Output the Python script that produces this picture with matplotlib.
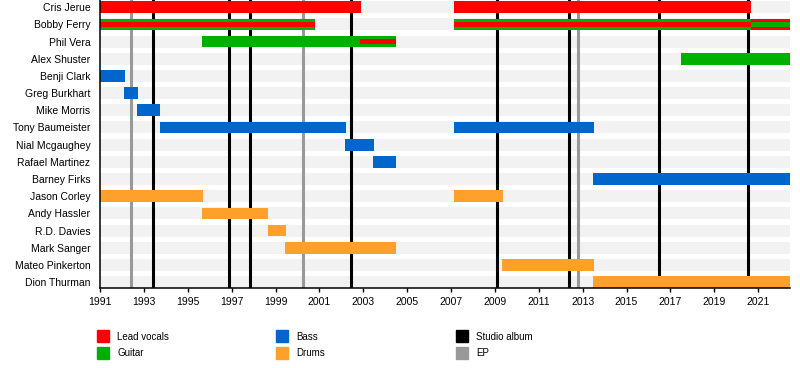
import matplotlib
matplotlib.use("Agg")
import matplotlib.pyplot as plt
from matplotlib.patches import Rectangle

plt.rcParams['font.family'] = ['Liberation Sans', 'DejaVu Sans']

# band members, top to bottom
members = ['Cris Jerue', 'Bobby Ferry', 'Phil Vera', 'Alex Shuster', 'Benji Clark',
           'Greg Burkhart', 'Mike Morris', 'Tony Baumeister', 'Nial Mcgaughey',
           'Rafael Martinez', 'Barney Firks', 'Jason Corley', 'Andy Hassler',
           'R.D. Davies', 'Mark Sanger', 'Mateo Pinkerton', 'Dion Thurman']

END = 2022.47

# (member, start, end) for the main bar of each role
vocals = [('Cris Jerue', 1991.0, 2002.89), ('Cris Jerue', 2007.13, 2020.66),
          ('Bobby Ferry', 2020.66, END)]
guitar = [('Bobby Ferry', 1991.0, 2000.8), ('Bobby Ferry', 2007.13, 2020.66),
          ('Phil Vera', 1995.65, 2004.5), ('Alex Shuster', 2017.5, END)]
bass = [('Benji Clark', 1991.0, 1992.12), ('Greg Burkhart', 1992.1, 1992.72),
        ('Mike Morris', 1992.7, 1993.74), ('Tony Baumeister', 1993.73, 2002.2),
        ('Tony Baumeister', 2007.13, 2013.51), ('Nial Mcgaughey', 2002.16, 2003.48),
        ('Rafael Martinez', 2003.45, 2004.5), ('Barney Firks', 2013.47, END)]
drums = [('Jason Corley', 1991.0, 1995.69), ('Jason Corley', 2007.13, 2009.35),
         ('Andy Hassler', 1995.65, 1998.68), ('R.D. Davies', 1998.65, 1999.47),
         ('Mark Sanger', 1999.42, 2004.5), ('Mateo Pinkerton', 2009.33, 2013.5),
         ('Dion Thurman', 2013.47, END)]

# secondary roles, drawn as a thin stripe inside the main bar
vocals_stripe = [('Bobby Ferry', 1991.0, 2000.8), ('Bobby Ferry', 2007.13, 2020.66),
                 ('Phil Vera', 2002.85, 2004.5)]
guitar_stripe = [('Bobby Ferry', 2020.66, END)]

studio_albums = [1993.41, 1996.86, 1997.86, 2002.45, 2009.1, 2012.38, 2016.5, 2020.54]
eps = [1992.43, 2000.26, 2012.79]

tick_years = list(range(1991, 2022, 2))

colors = {'Lead vocals': '#ff0000', 'Guitar': '#00b000', 'Bass': '#0066cc',
          'Drums': '#ffa02a', 'Studio album': '#000000', 'EP': '#999999'}

fig = plt.figure(figsize=(8, 3.68), dpi=100)
ax = fig.add_axes([0.125, 0.218, 0.863, 0.782])

rows = {name: i for i, name in enumerate(members)}

# background stripes
ax.barh(range(len(members)), END - 1991, left=1991, height=0.7,
        color='#f2f2f2', zorder=0)

for x in studio_albums:
    ax.axvline(x, color=colors['Studio album'], lw=2.2, zorder=1)
for x in eps:
    ax.axvline(x, color=colors['EP'], lw=2.2, zorder=1)

def draw(periods, color, h, z):
    for name, s, e in periods:
        ax.barh(rows[name], e - s, left=s, height=h, color=color, zorder=z,
                linewidth=0)

draw(vocals, colors['Lead vocals'], 0.68, 2)
draw(guitar, colors['Guitar'], 0.68, 2)
draw(bass, colors['Bass'], 0.68, 2)
draw(drums, colors['Drums'], 0.68, 2)
draw(vocals_stripe, colors['Lead vocals'], 0.27, 3)
draw(guitar_stripe, colors['Guitar'], 0.27, 3)

ax.set_xlim(1991, END)
ax.set_ylim(16.33, -0.42)
ax.set_yticks(range(len(members)))
ax.set_yticklabels(members, fontsize=7.5)
ax.tick_params(axis='y', length=0, pad=7)
ax.set_xticks(tick_years)
ax.set_xticklabels([str(y) for y in tick_years], fontsize=7.5)
ax.tick_params(axis='x', length=3, width=1, pad=4)
for side in ['top', 'right']:
    ax.spines[side].set_visible(False)
for side in ['left', 'bottom']:
    ax.spines[side].set_linewidth(1.1)
    ax.spines[side].set_zorder(5)

# legend
legend_items = [('Lead vocals', 97, 330), ('Guitar', 97, 347),
                ('Bass', 276, 330), ('Drums', 276, 347),
                ('Studio album', 456, 330), ('EP', 456, 347)]
W, H = 800.0, 368.0
for label, px, py in legend_items:
    fig.patches.append(Rectangle((px / W, 1 - (py + 12) / H), 12 / W, 12 / H,
                                 transform=fig.transFigure, color=colors[label]))
    fig.text((px + 20) / W, 1 - (py + 6.5) / H, label, fontsize=7, va='center')

fig.savefig('out.png', dpi=100)
